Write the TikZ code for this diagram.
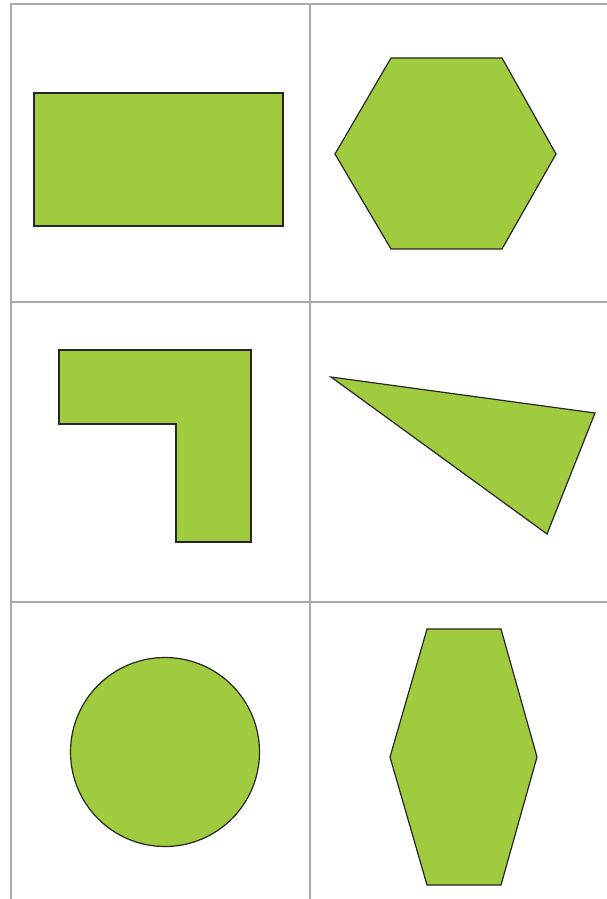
\documentclass[tikz,border=0pt]{standalone}
\usepackage{tikz}
\definecolor{shapegreen}{RGB}{160,203,62}
\definecolor{gridgray}{RGB}{170,170,170}

\begin{document}
\begin{tikzpicture}[x=1pt, y=-1pt] % pixel-like units, y pointing down
            \useasboundingbox (0,0) rectangle (607,899);

            % 1. Grid of cells
            \draw[gridgray, line width=2pt] (11,899) -- (11,4) -- (607,4);
            \draw[gridgray, line width=2pt] (310,4) -- (310,899);
            \draw[gridgray, line width=2pt] (11,302) -- (607,302);
            \draw[gridgray, line width=2pt] (11,602) -- (607,602);

            % 2. Top row: rectangle and hexagon
            \draw[fill=shapegreen, draw=black!85, line width=1.2pt] (34,93) rectangle (283,226);
            \draw[fill=shapegreen, draw=black!85, line width=1.2pt] (391,58) -- (502,58) -- (556,154) -- (502,249) -- (391,249) -- (335,154) -- cycle;

            % 3. Middle row: L-shape and triangle
            \draw[fill=shapegreen, draw=black!85, line width=1.2pt] (59,350) -- (251,350) -- (251,542) -- (176,542) -- (176,424) -- (59,424) -- cycle;
            \draw[fill=shapegreen, draw=black!85, line width=1.2pt] (331,377) -- (595,413) -- (547,534) -- cycle;

            % 4. Bottom row: circle and tall hexagon
            \draw[fill=shapegreen, draw=black!85, line width=1.2pt] (165,752) circle (94.5);
            \draw[fill=shapegreen, draw=black!85, line width=1.2pt] (427,629) -- (501,629) -- (537,757) -- (501,885) -- (427,885) -- (390,757) -- cycle;
        \end{tikzpicture}
\end{document}
